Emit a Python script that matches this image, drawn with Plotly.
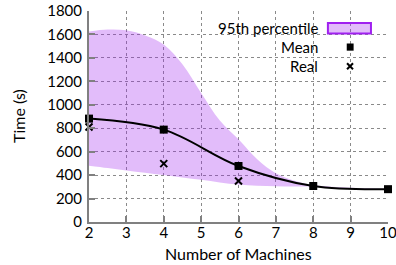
import plotly.graph_objects as go

# Data
machines = [2, 4, 6, 8, 10]
mean_time = [882, 788, 478, 307, 280]
real_machines = [2, 4, 6]
real_time = [811, 498, 350]

band_x = [2, 2.5, 3, 3.5, 4, 4.5, 5, 5.5, 6, 6.5, 7, 7.5, 8, 9, 10]
band_upper = [1625, 1642, 1635, 1592, 1515, 1345, 1100, 865, 705, 535, 415, 352, 315, 292, 284]
band_lower = [480, 460, 440, 420, 400, 380, 360, 338, 320, 310, 305, 302, 300, 285, 276]

x_ticks = [2, 3, 4, 5, 6, 7, 8, 9, 10]
y_ticks = [0, 200, 400, 600, 800, 1000, 1200, 1400, 1600, 1800]

FONT = "Lato"
fill_col = "rgba(160,32,240,0.30)"

fig = go.Figure()
fig.add_trace(go.Scatter(x=band_x, y=band_lower, mode="lines",
                         line=dict(width=0, shape="spline", smoothing=1),
                         hoverinfo="skip", showlegend=False))
fig.add_trace(go.Scatter(x=band_x, y=band_upper, mode="lines",
                         line=dict(width=0, shape="spline", smoothing=1),
                         fill="tonexty", fillcolor=fill_col,
                         name="95th percentile", showlegend=False))
fig.add_trace(go.Scatter(x=machines, y=mean_time, mode="lines",
                         line=dict(color="black", width=2, shape="spline", smoothing=1),
                         showlegend=False))
fig.add_trace(go.Scatter(x=machines, y=mean_time, mode="markers",
                         marker=dict(symbol="square", size=8, color="black"),
                         name="Mean", showlegend=False, cliponaxis=False))
fig.add_trace(go.Scatter(x=real_machines, y=real_time, mode="markers",
                         marker=dict(symbol="x-thin", size=7,
                                     line=dict(color="black", width=2)),
                         name="Real", showlegend=False, cliponaxis=False))

axis_common = dict(
    showgrid=True, gridcolor="#8a8a8a", griddash="dot", gridwidth=1,
    showline=True, linecolor="#808080", linewidth=2,
    ticks="inside", ticklen=6, tickcolor="#808080", tickwidth=2,
    tickfont=dict(family=FONT, size=15, color="black"),
    zeroline=False, automargin=False, ticklabeloverflow="allow",
)
fig.update_xaxes(range=[2, 10], tickvals=x_ticks, ticklabelstandoff=-4, **axis_common)
fig.update_yaxes(range=[0, 1800], tickvals=y_ticks, ticklabelstandoff=2, **axis_common)

L, R, T, B, W, H = 89, 8, 11, 43, 396, 265
pw, ph = W - L - R, H - T - B

title_font = dict(family=FONT, size=16, color="black")
fig.add_annotation(x=0.5, y=(H - B - 253) / ph, xref="paper", yref="paper",
                   text="Number of Machines", showarrow=False, font=title_font,
                   xanchor="center", yanchor="middle")
fig.add_annotation(x=(18 - L) / pw, y=(H - B - 116) / ph, xref="paper", yref="paper",
                   text="Time (s)", showarrow=False, font=title_font,
                   textangle=-90, xanchor="center", yanchor="middle")

# Legend drawn as annotations + shapes (gnuplot style: text then key)
leg_font = dict(family=FONT, size=15, color="black")
for txt, yp in [("95th percentile", 0.921), ("Mean", 0.829), ("Real", 0.738)]:
    fig.add_annotation(x=0.7726, y=yp, xref="paper", yref="paper", text=txt,
                       showarrow=False, xanchor="right", yanchor="middle", font=leg_font)
fig.add_shape(type="rect", xref="paper", yref="paper", x0=0.799, x1=0.943, y0=0.893, y1=0.943,
              fillcolor=fill_col, line=dict(color="#a020f0", width=2))
fig.add_shape(type="rect", xref="paper", yref="paper", x0=0.862, x1=0.885, y0=0.812, y1=0.846,
              fillcolor="black", line=dict(width=0))
for (a0, b0, a1, b1) in [(0.863, 0.724, 0.883, 0.752), (0.863, 0.752, 0.883, 0.724)]:
    fig.add_shape(type="line", xref="paper", yref="paper", x0=a0, y0=b0, x1=a1, y1=b1,
                  line=dict(color="black", width=2))

fig.update_layout(
    width=W, height=H,
    margin=dict(l=L, r=R, t=T, b=B),
    paper_bgcolor="white", plot_bgcolor="white",
    font=dict(family=FONT),
)
fig.write_html("out.html", config={"displayModeBar": False})

# remove default page margin so the figure sits at the window's top-left
with open("out.html", "r", encoding="utf-8") as f:
    html = f.read()
html = html.replace("<head>", "<head><style>html,body{margin:0;padding:0;overflow:hidden;}</style>", 1)
with open("out.html", "w", encoding="utf-8") as f:
    f.write(html)
